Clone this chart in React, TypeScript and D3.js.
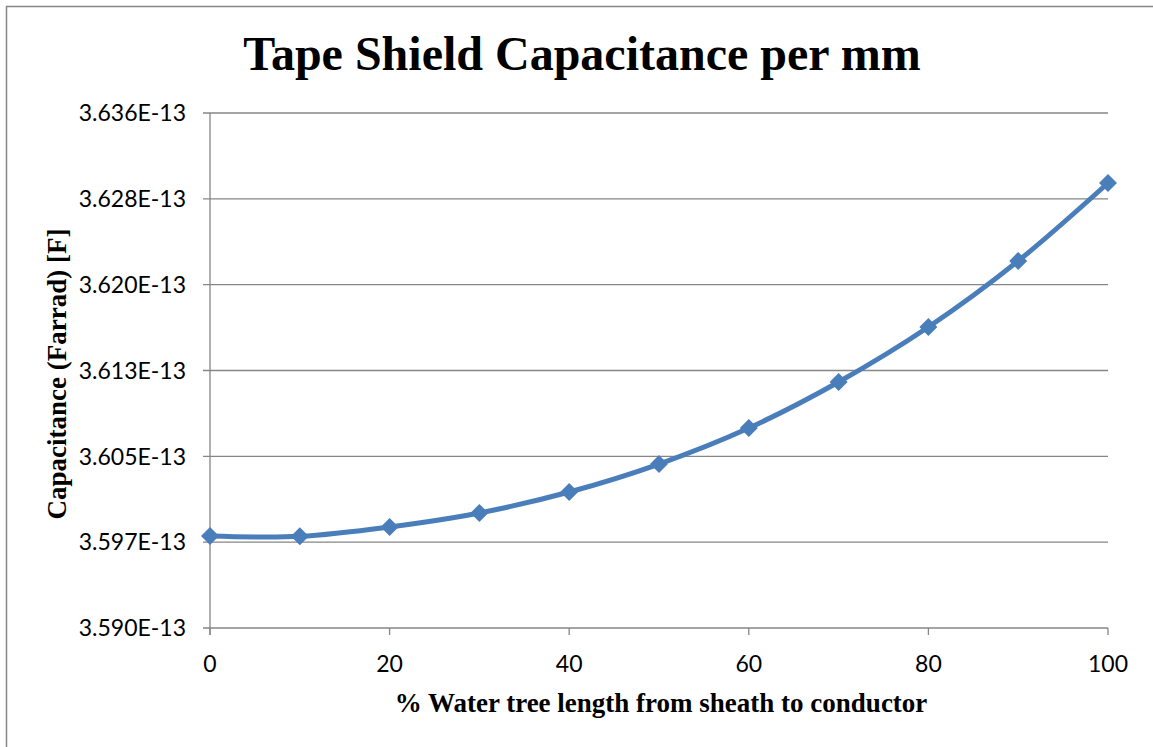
import React from "react";
import * as d3 from "d3";

// Water tree length (% from sheath to conductor)
const treeLength = [0, 10, 20, 30, 40, 50, 60, 70, 80, 90, 100];
// Capacitance per mm, in units of 1e-13 F
const capacitance = [3.59775, 3.59772, 3.59856, 3.59982, 3.6017, 3.60421, 3.60744, 3.61157, 3.6165, 3.62243, 3.62942];

const yTickValues = [3.5895, 3.5972, 3.6049, 3.6126, 3.6203, 3.628, 3.6357];
const yTickLabels = ["3.590E-13", "3.597E-13", "3.605E-13", "3.613E-13", "3.620E-13", "3.628E-13", "3.636E-13"];
const xTickValues = [0, 20, 40, 60, 80, 100];

const W = 1153;
const H = 747;
const plot = { left: 210, right: 1108, top: 113, bottom: 628 };
const gridColor = "#868686";
const lineColor = "#4a7ebb";
const tickFont = "Lato, 'Open Sans', sans-serif";
const serif = "'Liberation Serif', 'Times New Roman', serif";

export default function App() {
  const x = d3.scaleLinear().domain([0, 100]).range([plot.left, plot.right]);
  const y = d3
    .scaleLinear()
    .domain([yTickValues[0], yTickValues[yTickValues.length - 1]])
    .range([plot.bottom, plot.top]);

  const pts: [number, number][] = treeLength.map((t, i) => [x(t), y(capacitance[i])]);
  const path = d3.line().curve(d3.curveCardinal.tension(0))(pts) || "";
  const diamond = 9;

  return (
    <svg
      width={W}
      height={H}
      style={{ position: "absolute", left: 0, top: 0, background: "#fff" }}
    >
      <rect x={6.5} y={6.5} width={W + 20} height={H + 20} fill="#fff" stroke={gridColor} strokeWidth={1.5} />

      <text
        x={582}
        y={70}
        textAnchor="middle"
        fontFamily={serif}
        fontWeight="bold"
        fontSize={48}
      >
        Tape Shield Capacitance per mm
      </text>

      {/* horizontal gridlines and y ticks */}
      {yTickValues.map((v, i) => (
        <g key={i}>
          <line
            x1={plot.left - 7}
            x2={plot.right}
            y1={y(v)}
            y2={y(v)}
            stroke={gridColor}
            strokeWidth={1.3}
          />
          <text
            x={186}
            y={y(v)}
            dy="0.36em"
            textAnchor="end"
            fontFamily={tickFont}
            fontSize={23}
            fill="#000"
          >
            {yTickLabels[i]}
          </text>
        </g>
      ))}

      {/* y axis line */}
      <line x1={plot.left} x2={plot.left} y1={plot.top} y2={plot.bottom + 7} stroke={gridColor} strokeWidth={1.3} />

      {/* x ticks */}
      {xTickValues.map((v) => (
        <g key={v}>
          <line x1={x(v)} x2={x(v)} y1={plot.bottom} y2={plot.bottom + 7} stroke={gridColor} strokeWidth={1.3} />
          <text
            x={x(v)}
            y={672}
            textAnchor="middle"
            fontFamily={tickFont}
            fontSize={23}
            fill="#000"
          >
            {v}
          </text>
        </g>
      ))}

      <text
        x={661}
        y={712}
        textAnchor="middle"
        fontFamily={serif}
        fontWeight="bold"
        fontSize={27}
      >
        % Water tree length from sheath to conductor
      </text>

      <text
        transform={`translate(66, 374) rotate(-90)`}
        textAnchor="middle"
        fontFamily={serif}
        fontWeight="bold"
        fontSize={27}
      >
        Capacitance (Farrad) [F]
      </text>

      <path d={path} fill="none" stroke={lineColor} strokeWidth={5} strokeLinejoin="round" />

      {pts.map(([px, py], i) => (
        <path
          key={i}
          d={`M${px},${py - diamond}L${px + diamond},${py}L${px},${py + diamond}L${px - diamond},${py}Z`}
          fill={lineColor}
        />
      ))}
    </svg>
  );
}
